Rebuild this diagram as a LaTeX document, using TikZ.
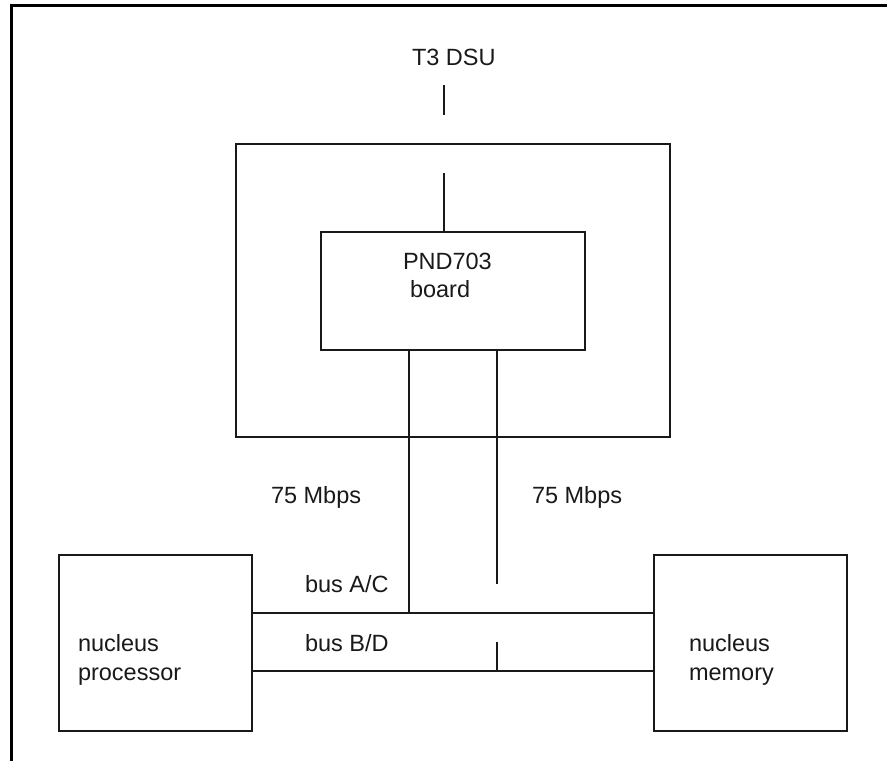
\documentclass[tikz,border=0pt]{standalone}
\usepackage{fontspec}
\setmainfont{Liberation Sans}
\begin{document}
\begin{tikzpicture}[x=1pt,y=-1pt,
  every node/.style={inner sep=0pt,outer sep=0pt},
  box/.style={draw=black!90,line width=1.6pt,rectangle},
  wire/.style={draw=black!90,line width=1.6pt},
  frameline/.style={draw=black,line width=3pt},
  lbl/.style={anchor=base west,font=\fontsize{23.5}{29}\selectfont,text=black!90}]
  \useasboundingbox (0,0) rectangle (887,761);
  % open frame: top and left edges only
  \coordinate (fl) at (11.5,761);
  \coordinate (fc) at (11.5,5.5);
  \coordinate (fr) at (887,5.5);
  \draw[frameline] (fl) -- (fc) -- (fr);

  % enclosure and board
  \node[box,minimum width=434,minimum height=293] (encl) at (453,290.5) {};
  \node[box,minimum width=264,minimum height=118] (board) at (453,291) {};
  % end systems
  \node[box,minimum width=193,minimum height=176] (proc) at (155.5,643) {};
  \node[box,minimum width=193,minimum height=176] (mem) at (750.5,643) {};

  % labels
  \node[lbl] (t3) at (412,65) {T3 DSU};
  \node[lbl] (pnd) at (403,269) {PND703};
  \node[lbl] (brd) at (410,297) {board};
  \node[lbl] (rateA) at (271,503) {75 Mbps};
  \node[lbl] (rateB) at (532,503) {75 Mbps};
  \node[lbl] (busac) at (305,592) {bus A/C};
  \node[lbl] (busbd) at (305,651) {bus B/D};
  \node[lbl] (np1) at (78,651) {nucleus};
  \node[lbl] (np2) at (78,680) {processor};
  \node[lbl] (nm1) at (689,651) {nucleus};
  \node[lbl] (nm2) at (689,680) {memory};

  % T3 DSU link stubs
  \coordinate (dsuA) at (444,85);
  \coordinate (dsuB) at (444,115);
  \coordinate (dsuC) at (444,173);
  \draw[wire] (dsuA) -- (dsuB);
  \draw[wire] (dsuC) -- (dsuC |- board.north);

  % buses
  \coordinate (acY) at (0,613);
  \coordinate (bdY) at (0,671);
  \draw[wire] (proc.east |- acY) -- (mem.west |- acY);
  \draw[wire] (proc.east |- bdY) -- (mem.west |- bdY);

  % 75 Mbps links from the board
  \coordinate (lkA) at (409,0);
  \coordinate (lkB) at (497,0);
  \coordinate (lkBend) at (497,584);
  \coordinate (stubTop) at (497,642);
  \draw[wire] (board.south -| lkA) -- (lkA |- acY);
  \draw[wire] (board.south -| lkB) -- (lkBend);
  \draw[wire] (stubTop) -- (lkB |- bdY);
\end{tikzpicture}
\end{document}
